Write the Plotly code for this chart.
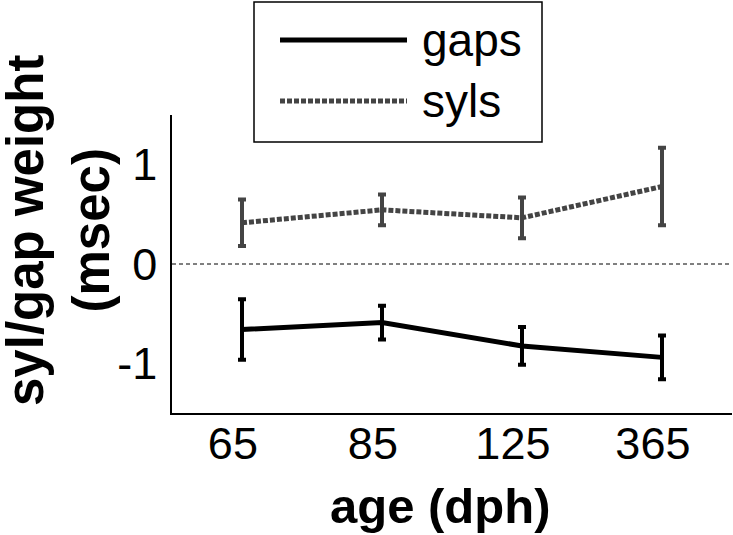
import plotly.graph_objects as go

# ages (days post hatch) on a categorical axis
ages = ["65", "85", "125", "365"]
age_pos = [1, 2, 3, 4]

gaps_mean = [-0.66, -0.59, -0.825, -0.94]
gaps_err = [0.305, 0.17, 0.19, 0.22]
syls_mean = [0.415, 0.545, 0.465, 0.78]
syls_err = [0.235, 0.155, 0.205, 0.39]

W, H = 733, 535
PL, PR, PT, PB = 172, 732, 115, 413  # plot area in pixels
FONT = "Liberation Sans, Arial, sans-serif"
GRAY = "#444444"


def px(x):
    return (x - PL) / (PR - PL)


def py(y):
    return (PB - y) / (PB - PT)


fig = go.Figure()
fig.add_trace(go.Scatter(
    x=age_pos, y=gaps_mean, mode="lines", name="gaps",
    line=dict(color="black", width=5),
    error_y=dict(type="data", array=gaps_err, color="black", thickness=4, width=4),
))
fig.add_trace(go.Scatter(
    x=age_pos, y=syls_mean, mode="lines", name="syls",
    line=dict(color=GRAY, width=5, dash="5px,2px"),
    error_y=dict(type="data", array=syls_err, color=GRAY, thickness=4, width=4),
))

# zero reference line
fig.add_shape(type="line", xref="paper", yref="y", x0=0, x1=1, y0=0, y1=0,
              line=dict(color="black", width=1, dash="4px,3px"), layer="below")

# legend drawn by hand (MATLAB style, long line samples)
fig.add_shape(type="rect", xref="paper", yref="paper",
              x0=px(254), x1=px(542), y0=py(142), y1=py(2),
              line=dict(color="black", width=1.5), fillcolor="white")
fig.add_shape(type="line", xref="paper", yref="paper",
              x0=px(280), x1=px(407), y0=py(40), y1=py(40),
              line=dict(color="black", width=5))
fig.add_shape(type="line", xref="paper", yref="paper",
              x0=px(280), x1=px(407), y0=py(101), y1=py(101),
              line=dict(color=GRAY, width=5, dash="5px,2px"))
for label, yy in [("gaps", 40), ("syls", 101)]:
    fig.add_annotation(x=px(420), y=py(yy), xref="paper", yref="paper",
                       text=label, showarrow=False, xanchor="left", yanchor="middle",
                       font=dict(family=FONT, size=46, color="black"))

# axis titles placed by hand
fig.add_annotation(x=px(440), y=py(506), xref="paper", yref="paper",
                   text="<b>age (dph)</b>", showarrow=False,
                   xanchor="center", yanchor="middle",
                   font=dict(family=FONT, size=49, color="black"))
fig.add_annotation(x=px(58), y=py(231), xref="paper", yref="paper",
                   text="<b>syl/gap weight<br>(msec)</b>", showarrow=False,
                   textangle=-90, xanchor="center", yanchor="middle",
                   font=dict(family=FONT, size=51, color="black"))

fig.update_layout(
    width=W, height=H,
    margin=dict(l=PL, r=W - PR, t=PT, b=H - PB),
    paper_bgcolor="white", plot_bgcolor="white",
    showlegend=False,
    font=dict(family=FONT, color="black"),
    xaxis=dict(
        range=[0.5, 4.5], tickmode="array",
        tickvals=[p - 0.065 for p in age_pos], ticktext=ages,
        tickfont=dict(size=45), showgrid=False, zeroline=False,
        showline=True, linecolor="black", linewidth=1.5, ticks="",
        ticklabelstandoff=-10, automargin=False,
    ),
    yaxis=dict(
        range=[-1.5, 1.5], tickvals=[-1, 0, 1], ticktext=["-1", "0", "1"],
        tickfont=dict(size=45), showgrid=False, zeroline=False,
        showline=True, linecolor="black", linewidth=1.5, ticks="",
        ticklabelstandoff=4, automargin=False,
    ),
)

# drop the default page margin so the figure fills the window exactly
fig.write_html(
    "out.html",
    config={"displayModeBar": False},
    post_script="document.body.style.margin='0';"
                "document.documentElement.style.overflow='hidden';",
)
